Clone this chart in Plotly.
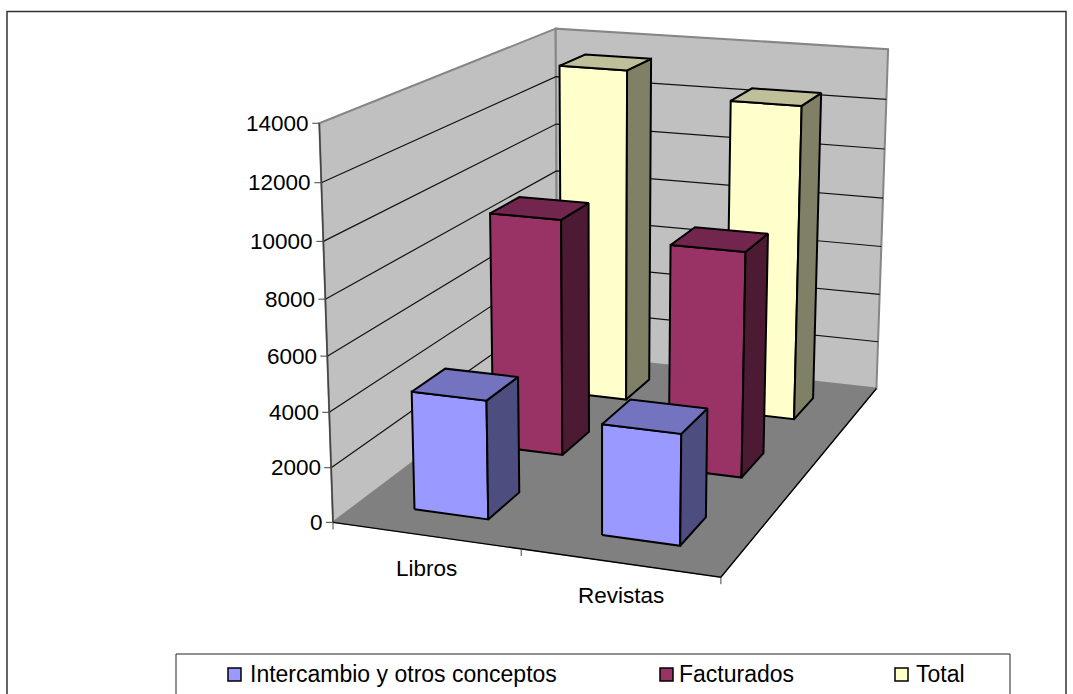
"""Columnas 3D (estilo Excel) dibujadas con trazos Scatter rellenos sobre una proyeccion de camara."""

import numpy as np
import plotly.graph_objects as go

# ---------- datos ----------
categorias = ["Libros", "Revistas"]
series = ["Intercambio y otros conceptos", "Facturados", "Total"]
intercambio = [4330, 3980]
facturados = [9060, 8500]
total = [13390, 12480]
ticks_z = [0, 2000, 4000, 6000, 8000, 10000, 12000, 14000]
z_max = 14000

# ---------- colores: frente, techo, lateral ----------
COLORES = {
    "Intercambio y otros conceptos": ("#9999FF", "#7373BF", "#4D4D80"),
    "Facturados": ("#993366", "#73264D", "#4D1A33"),
    "Total": ("#FFFFCC", "#BFBF99", "#808066"),
}
PARED = "#C0C0C0"
SUELO = "#808080"
BORDE_PARED = "#868686"
FUENTE = "Liberation Sans, Arial, sans-serif"
SEP = 0.3  # hueco a cada lado de la barra (gap 150 %)

# ---------- camara: esquinas de la caja (u, v, w) -> pixel ----------
ESQUINAS = [
    ((0, 0, 0), (333.5, 523)),
    ((1, 0, 0), (720.7, 576.7)),
    ((1, 1, 0), (876.7, 389)),
    ((0, 1, 0), (557, 352.5)),
    ((0, 0, 1), (319, 123)),
    ((0, 1, 1), (556, 29)),
    ((1, 1, 1), (888, 49)),
]
filas, lado = [], []
for (u, v, w), (px, py) in ESQUINAS:
    filas.append([u, v, w, 1, 0, 0, 0, 0, -px * u, -px * v, -px * w])
    filas.append([0, 0, 0, 0, u, v, w, 1, -py * u, -py * v, -py * w])
    lado += [px, py]
sol = np.linalg.lstsq(np.array(filas, float), np.array(lado, float), rcond=None)[0]
CAM = np.append(sol, 1).reshape(3, 4)


def proy(cat, fila, valor):
    """cat en 0..2, fila en 0..3, valor en unidades del eje z."""
    p = CAM @ np.array([cat / len(categorias), fila / len(series), valor / z_max, 1])
    return p[0] / p[2], p[1] / p[2]


fig = go.Figure()


def poligono(puntos, color=None, linea="#000000", ancho=2):
    xs = [p[0] for p in puntos]
    ys = [p[1] for p in puntos]
    fig.add_trace(go.Scatter(
        x=xs + xs[:1] if color else xs,
        y=ys + ys[:1] if color else ys,
        mode="lines",
        fill="toself" if color else None,
        fillcolor=color,
        line=dict(color=linea, width=ancho),
        hoverinfo="skip",
        showlegend=False,
    ))


# ---------- paredes y suelo ----------
nc, nf = len(categorias), len(series)
poligono([proy(0, 0, 0), proy(0, nf, 0), proy(0, nf, z_max), proy(0, 0, z_max)], PARED, BORDE_PARED, 2)
poligono([proy(0, nf, 0), proy(nc, nf, 0), proy(nc, nf, z_max), proy(0, nf, z_max)], PARED, BORDE_PARED, 2)
poligono([proy(0, 0, 0), proy(nc, 0, 0), proy(nc, nf, 0), proy(0, nf, 0)], SUELO, SUELO, 1)

# lineas de division
for t in ticks_z[1:-1]:
    poligono([proy(0, 0, t), proy(0, nf, t), proy(nc, nf, t)], None, "#111111", 1.2)

# ejes
poligono([proy(0, 0, 0), proy(0, 0, z_max)], None, "#444444", 1.5)
poligono([proy(0, 0, 0), proy(nc, 0, 0), proy(nc, nf, 0)], None, "#000000", 1.4)
for t in ticks_z:
    x0, y0 = proy(0, 0, t)
    poligono([(x0 - 7, y0), (x0, y0)], None, "#444444", 1)
for c in range(nc + 1):
    x0, y0 = proy(c, 0, 0)
    poligono([(x0, y0), (x0, y0 + 7)], None, "#444444", 1)

# ---------- barras, del fondo hacia delante ----------
valores = [intercambio, facturados, total]
for f in reversed(range(nf)):
    frente, techo, lateral = COLORES[series[f]]
    for c in range(nc):
        z = valores[f][c]
        c0, c1 = c + SEP, c + 1 - SEP
        f0, f1 = f + SEP, f + 1 - SEP
        poligono([proy(c0, f0, 0), proy(c1, f0, 0), proy(c1, f0, z), proy(c0, f0, z)], frente)
        poligono([proy(c1, f0, 0), proy(c1, f1, 0), proy(c1, f1, z), proy(c1, f0, z)], lateral)
        poligono([proy(c0, f0, z), proy(c1, f0, z), proy(c1, f1, z), proy(c0, f1, z)], techo)

# ---------- textos de ejes ----------
anotaciones = []
for t in ticks_z:
    x0, y0 = proy(0, 0, t)
    anotaciones.append(dict(x=x0 - 8, y=y0, text=str(t), xanchor="right", yanchor="middle", showarrow=False))
for c, nombre in enumerate(categorias):
    x0, y0 = proy(c + 0.5, 0, 0)
    anotaciones.append(dict(x=x0 + 1, y=y0 + 33, text=nombre, xanchor="center", yanchor="middle", showarrow=False))

# ---------- leyenda ----------
formas = [
    dict(type="rect", x0=7, y0=11.5, x1=1066, y1=720, line=dict(color="#333333", width=1.5), layer="below"),
    dict(type="rect", x0=176, y0=654, x1=1010, y1=720, line=dict(color="#222222", width=1), fillcolor="#FFFFFF"),
]
for nombre, x_cuadro, x_texto in zip(series, [228, 660, 895], [248, 677, 914]):
    formas.append(dict(type="rect", x0=x_cuadro, y0=668, x1=x_cuadro + 13, y1=681,
                       fillcolor=COLORES[nombre][0], line=dict(color="#000000", width=1.5)))
    anotaciones.append(dict(x=x_texto, y=674, text=nombre, xanchor="left", yanchor="middle",
                            showarrow=False, font=dict(size=23)))

fig.update_layout(
    width=1073,
    height=694,
    margin=dict(l=0, r=0, t=0, b=0),
    paper_bgcolor="#FFFFFF",
    plot_bgcolor="#FFFFFF",
    font=dict(family=FUENTE, size=22.5, color="#000000"),
    xaxis=dict(range=[0, 1073], visible=False, fixedrange=True),
    yaxis=dict(range=[694, 0], visible=False, fixedrange=True),
    annotations=anotaciones,
    shapes=formas,
    showlegend=False,
)

# el margen por defecto del body desplazaria todo 8 px
fig.write_html("out.html", config={"displayModeBar": False}, post_script="document.body.style.margin='0';")
